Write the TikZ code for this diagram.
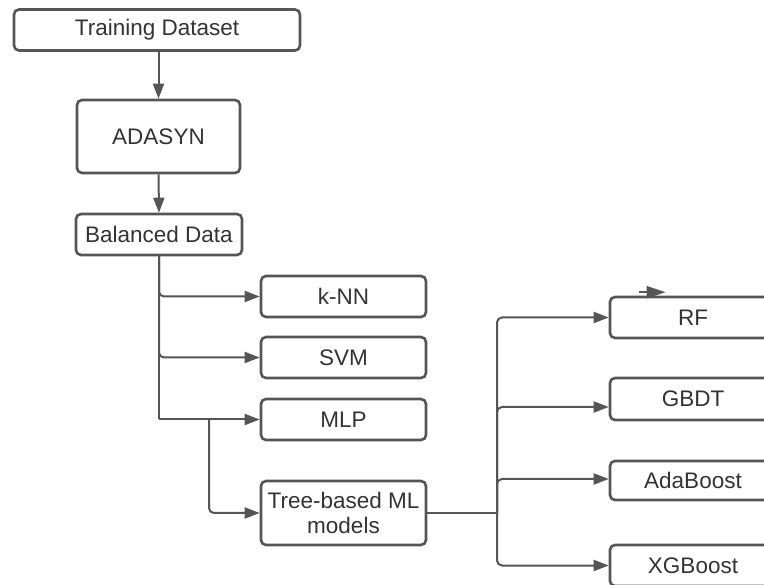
\documentclass[tikz,border=0pt]{standalone}
\usepackage{fontspec}
\setmainfont{Liberation Sans}
\usetikzlibrary{arrows.meta}
\definecolor{edge}{HTML}{555555}
\definecolor{ink}{HTML}{333333}
\begin{document}
\begin{tikzpicture}[x=1pt,y=-1pt,
  box/.style={draw=edge,line width=2.6pt,rounded corners=5pt,fill=white,
    text=ink,font=\fontsize{22.5}{26}\selectfont,inner sep=0pt,align=center,
    minimum width=165pt,minimum height=41pt},
  conn/.style={draw=edge,line width=2pt,rounded corners=5pt,
    -{Triangle[length=15pt,width=11pt]}},
  wire/.style={draw=edge,line width=2pt,rounded corners=5pt}]
\useasboundingbox[fill=white] (0,0) rectangle (764,585);

% preprocessing chain
\node[box,minimum width=286pt] (train) at (157,30) {Training Dataset};
\node[box,minimum width=163pt,minimum height=73pt] (adasyn) at (158.5,136.5) {ADASYN};
\node[box,minimum width=166pt] (bal) at (159,234.5) {Balanced Data};

% classifiers
\node[box] (knn) at (343.5,296.5) {k-NN};
\node[box] (svm) at (343.5,357.5) {SVM};
\node[box] (mlp) at (343.5,419.5) {MLP};
\node[box,minimum height=64pt] (tree) at (343.5,513) {Tree-based ML\\[-1pt]models};

% tree ensembles
\node[box,minimum width=166pt] (rf) at (693,317.5) {RF};
\node[box,minimum width=166pt,minimum height=42pt] (gbdt) at (693,399) {GBDT};
\node[box,minimum width=166pt,minimum height=39pt] (ada) at (693,480.5) {AdaBoost};
\node[box,minimum width=166pt] (xgb) at (693,565.5) {XGBoost};

\coordinate (trunk) at (159,419.5);
\coordinate (split) at (209,419.5);
\coordinate (bus) at (497,513);

\draw[conn] (train.south -| adasyn.north) -- (adasyn.north);
\draw[conn] (adasyn.south) -- (bal.north);

\draw[wire] (bal.south) -- (trunk);
\draw[conn] (bal.south) |- (knn.west);
\draw[conn] (bal.south) |- (svm.west);
\draw[conn] (trunk) -- (mlp.west);
\draw[conn] (split) |- (tree.west);

\draw[wire] (tree.east) -- (bus);
\draw[conn] (bus) |- (rf.west);
\draw[conn] (bus) |- ([yshift=-8pt]gbdt.west);
\draw[conn] (bus) |- ([yshift=1.5pt]ada.west);
\draw[conn] (bus) |- (xgb.west);

% stray tip on the RF border
\draw[draw=edge,line width=2pt,-{Triangle[length=19pt,width=12pt]}]
  ([xshift=30pt,yshift=3.5pt]rf.north west) -- ([xshift=57pt,yshift=3.5pt]rf.north west);
\end{tikzpicture}
\end{document}
